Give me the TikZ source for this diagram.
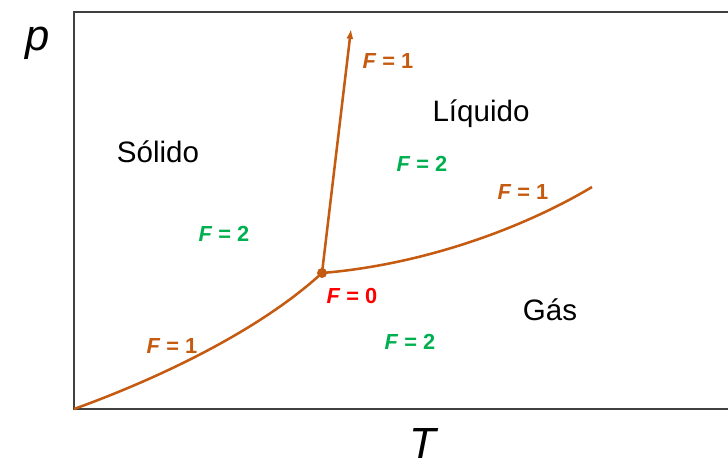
\documentclass[tikz,border=0pt]{standalone}
\usepackage{fontspec}
\setmainfont{Liberation Sans}
\usetikzlibrary{arrows.meta}
\definecolor{marrom}{HTML}{C55A11}
\definecolor{verde}{HTML}{00B050}
\definecolor{verm}{HTML}{FF0000}

\begin{document}
\begin{tikzpicture}[x=0.025cm,y=-0.025cm,
  eixo/.style={draw=black!75,line width=1.4pt},
  curva/.style={marrom,line width=1.8pt},
  fase/.style={anchor=base,font=\fontsize{21}{24}\selectfont},
  var/.style={anchor=base,font=\fontsize{31}{34}\selectfont\itshape},
  gl/.style={anchor=base,font=\fontsize{15.5}{18}\selectfont\bfseries},
  every node/.style={inner sep=0pt}
]
  \useasboundingbox (0,0) rectangle (728,465);
  % eixos
  \coordinate (tr) at (728,12);
  \coordinate (tl) at (74,12);
  \coordinate (o) at (74,409);
  \coordinate (br) at (728,409);
  \draw[eixo] (tr)--(tl)--(o)--(br);
  \node[var] (p) at (38,51) {p};
  \node[var] (T) at (423,458) {T};
  % curvas de equilibrio
  \coordinate (tp) at (322,273);
  \coordinate (fus) at (351,29);
  \coordinate (vap) at (592,187);
  \draw[curva] (o) .. controls (160,378) and (260,330) .. (tp);
  \draw[curva,-{Latex[length=7pt,width=5pt]}] (tp)--(fus);
  \draw[curva] (tp) .. controls (420,265) and (520,230) .. (vap);
  \fill[marrom] (tp) circle (5);
  % fases
  \node[fase] (sol) at (158,163) {Sólido};
  \node[fase] (liq) at (481,122) {Líquido};
  \node[fase] (gas) at (550,320) {Gás};
  % graus de liberdade
  \node[gl,marrom] (f1a) at (388,69) {\textit{F} = 1};
  \node[gl,verde] (f2a) at (422,172) {\textit{F} = 2};
  \node[gl,marrom] (f1b) at (523,200) {\textit{F} = 1};
  \node[gl,verde] (f2b) at (224,242) {\textit{F} = 2};
  \node[gl,verm] (f0) at (352,303) {\textit{F} = 0};
  \node[gl,marrom] (f1c) at (172,353) {\textit{F} = 1};
  \node[gl,verde] (f2c) at (410,349) {\textit{F} = 2};
\end{tikzpicture}
\end{document}
